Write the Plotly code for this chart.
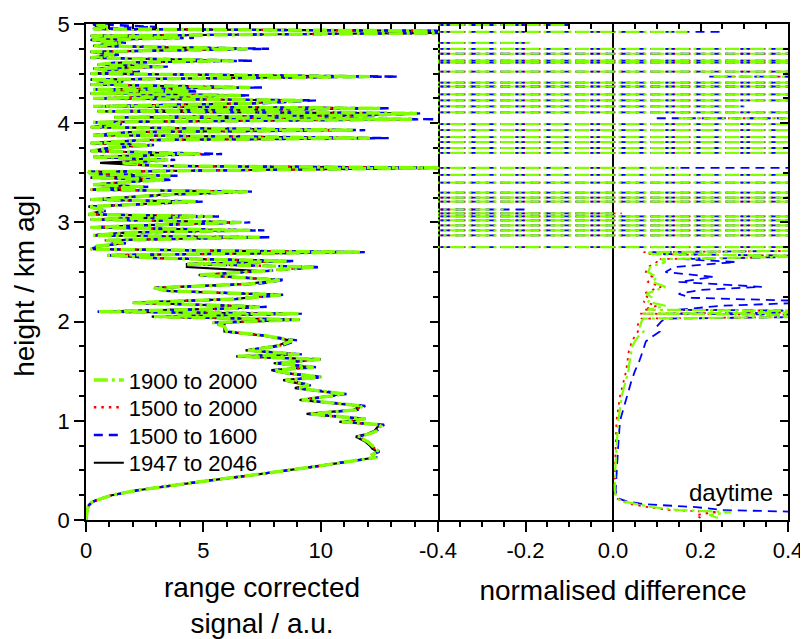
import plotly.graph_objects as go

# ---------------------------------------------------------------------------
# range corrected signal (left panel) -- heights in km agl
# ---------------------------------------------------------------------------
h_sig = [
    0.00, 0.05, 0.10, 0.15, 0.18, 0.20, 0.22, 0.25, 0.30, 0.35,
    0.40, 0.45, 0.50, 0.55, 0.60, 0.63, 0.66, 0.69, 0.72, 0.75,
    0.79, 0.84, 0.87, 0.90, 0.96, 0.99, 1.02, 1.07, 1.11, 1.15,
    1.21, 1.27, 1.33, 1.36, 1.41, 1.44, 1.48, 1.51, 1.54, 1.58,
    1.62, 1.65, 1.67, 1.71, 1.76, 1.81, 1.86, 1.90, 1.95, 1.99,
    2.02, 2.05, 2.08, 2.10, 2.13, 2.15, 2.19, 2.23, 2.27, 2.31,
    2.34, 2.38, 2.42, 2.47, 2.51, 2.55, 2.58, 2.61, 2.64, 2.67,
    2.70, 2.73, 2.76, 2.79, 2.82, 2.85, 2.87, 2.90, 2.92, 2.95,
    2.97, 3.00, 3.03, 3.06, 3.08, 3.12, 3.16, 3.19, 3.21, 3.23,
    3.26, 3.28, 3.31, 3.33, 3.36, 3.38, 3.41, 3.43, 3.45, 3.47,
    3.49, 3.51, 3.55, 3.57, 3.60, 3.63, 3.66, 3.69, 3.72, 3.75,
    3.78, 3.80, 3.83, 3.85, 3.88, 3.91, 3.93, 3.96, 3.99, 4.01,
    4.04, 4.06, 4.08, 4.10, 4.12, 4.15, 4.17, 4.20, 4.23, 4.25,
    4.28, 4.30, 4.32, 4.34, 4.36, 4.39, 4.42, 4.44, 4.47, 4.50,
    4.52, 4.55, 4.57, 4.59, 4.61, 4.63, 4.66, 4.69, 4.72, 4.75,
    4.78, 4.81, 4.84, 4.86, 4.88, 4.91, 4.93, 4.95, 4.97, 5.00,
]

sig_1900_2000 = [
    0.00, 0.02, 0.05, 0.12, 0.25, 0.45, 0.75, 1.10, 2.20, 3.70,
    5.30, 7.00, 8.60, 10.10, 11.50, 12.30, 12.20, 12.50, 12.30, 12.20,
    12.00, 11.60, 12.10, 12.40, 12.60, 10.90, 11.90, 9.50, 11.50, 11.80,
    9.20, 11.00, 9.00, 9.50, 8.50, 10.00, 8.60, 8.00, 9.70, 8.10,
    10.00, 6.40, 9.10, 6.90, 8.30, 8.80, 7.60, 6.00, 5.90, 5.40,
    9.10, 2.90, 9.10, 0.50, 6.00, 7.40, 2.00, 6.50, 8.30, 3.50,
    2.90, 7.00, 8.30, 4.80, 7.50, 9.70, 4.30, 8.60, 3.00, 0.90,
    11.70, 0.20, 0.40, 1.60, 0.80, 7.40, 0.30, 2.00, 7.00, 0.20,
    2.50, 6.60, 0.20, 5.40, 0.10, 0.80, 0.10, 3.00, 4.70, 0.20,
    2.00, 3.50, 6.90, 0.20, 2.50, 0.30, 1.90, 3.40, 0.20, 3.60,
    0.20, 0.10, 15.30, 3.00, 1.50, 3.50, 0.30, 4.90, 0.20, 1.00,
    2.80, 0.20, 2.50, 12.10, 0.30, 2.00, 11.40, 0.20, 1.50, 0.30,
    13.90, 1.20, 11.80, 14.10, 0.50, 12.60, 0.30, 7.00, 9.30, 0.30,
    6.60, 0.20, 4.40, 0.30, 7.00, 0.20, 1.50, 0.20, 12.10, 0.20,
    2.00, 0.30, 3.30, 0.50, 1.20, 6.30, 0.20, 1.20, 0.20, 6.90,
    0.30, 1.50, 0.20, 4.00, 0.20, 15.20, 15.30, 0.30, 1.00, 0.30,
]

sig_1500_2000 = [
    0.00, 0.02, 0.05, 0.12, 0.25, 0.45, 0.75, 1.10, 2.20, 3.70,
    5.30, 7.00, 8.60, 10.10, 11.50, 12.30, 12.20, 12.50, 12.30, 12.20,
    12.00, 11.60, 12.10, 12.40, 12.60, 10.90, 11.90, 9.50, 11.50, 11.80,
    9.20, 11.00, 9.00, 9.50, 8.50, 10.00, 8.60, 8.00, 9.70, 8.10,
    10.00, 6.40, 9.10, 6.90, 8.30, 8.80, 7.60, 6.00, 5.90, 5.40,
    9.10, 2.90, 9.10, 0.50, 6.00, 7.40, 2.00, 6.50, 8.30, 3.50,
    2.90, 7.00, 8.30, 4.80, 7.50, 9.70, 4.30, 8.60, 3.00, 0.90,
    11.70, 0.20, 0.40, 1.60, 0.80, 7.30, 0.30, 2.00, 7.10, 0.20,
    2.50, 6.60, 0.20, 5.40, 0.10, 0.80, 0.10, 3.00, 4.70, 0.20,
    2.00, 3.50, 6.90, 0.20, 2.50, 0.30, 1.90, 3.40, 0.20, 3.60,
    0.20, 0.10, 15.30, 3.00, 1.50, 3.50, 0.30, 5.00, 0.20, 1.00,
    2.80, 0.20, 2.50, 12.20, 0.30, 2.00, 11.40, 0.20, 1.50, 0.30,
    13.90, 1.20, 11.90, 14.10, 0.50, 12.60, 0.30, 7.00, 9.30, 0.30,
    6.60, 0.20, 4.40, 0.30, 7.00, 0.20, 1.50, 0.20, 12.20, 0.20,
    2.00, 0.30, 3.30, 0.50, 1.20, 6.30, 0.20, 1.20, 0.20, 6.90,
    0.30, 1.50, 0.20, 4.00, 0.20, 15.20, 15.30, 0.30, 1.00, 0.30,
]

sig_1500_1600 = [
    0.00, 0.02, 0.05, 0.13, 0.26, 0.46, 0.76, 1.10, 2.20, 3.70,
    5.30, 7.00, 8.60, 10.10, 11.50, 12.40, 12.20, 12.50, 12.30, 12.20,
    12.00, 11.60, 12.10, 12.40, 12.70, 10.90, 11.90, 9.50, 11.60, 11.90,
    9.20, 11.10, 9.00, 9.60, 8.50, 10.10, 8.60, 8.00, 9.80, 8.10,
    10.10, 6.40, 9.20, 6.90, 8.40, 9.00, 7.60, 6.00, 5.90, 5.40,
    9.20, 2.90, 9.20, 0.50, 6.10, 7.70, 2.00, 6.70, 8.40, 3.50,
    2.90, 7.30, 8.50, 4.80, 7.70, 10.00, 4.30, 8.90, 3.00, 0.90,
    11.90, 0.20, 0.50, 1.70, 0.80, 7.90, 0.30, 2.30, 7.60, 0.20,
    2.70, 7.00, 0.20, 5.70, 0.10, 0.90, 0.10, 3.20, 5.00, 0.20,
    2.20, 3.80, 7.10, 0.20, 2.70, 0.30, 2.00, 3.70, 0.20, 3.90,
    0.20, 0.10, 15.50, 3.20, 1.60, 3.80, 0.30, 5.80, 0.20, 1.10,
    2.90, 0.20, 2.70, 12.90, 0.30, 2.20, 11.90, 0.20, 1.60, 0.30,
    14.90, 1.20, 12.50, 14.30, 0.50, 13.00, 0.30, 7.50, 9.80, 0.30,
    7.00, 0.20, 4.80, 0.30, 7.50, 0.20, 1.70, 0.20, 13.30, 0.20,
    2.30, 0.30, 3.50, 0.50, 1.20, 7.10, 0.20, 1.40, 0.20, 7.80,
    0.30, 1.70, 0.20, 4.60, 0.20, 15.40, 15.50, 0.30, 3.00, 0.30,
]

sig_1947_2046 = [
    0.00, 0.02, 0.05, 0.12, 0.25, 0.45, 0.75, 1.10, 2.20, 3.70,
    5.30, 7.00, 8.60, 10.10, 11.50, 12.30, 12.20, 12.40, 12.20, 12.10,
    11.90, 11.50, 12.00, 12.30, 12.50, 10.80, 11.80, 9.40, 11.40, 11.70,
    9.10, 10.90, 8.90, 9.40, 8.40, 9.90, 8.50, 7.90, 9.60, 8.00,
    9.90, 6.40, 9.00, 6.80, 8.20, 8.70, 7.50, 5.90, 5.90, 5.90,
    9.00, 2.80, 9.00, 0.50, 5.90, 7.30, 2.00, 6.40, 8.20, 3.40,
    2.90, 6.90, 8.20, 4.80, 7.40, 4.30, 4.30, 8.50, 3.00, 0.90,
    11.50, 0.30, 0.60, 1.60, 1.00, 6.80, 0.30, 1.80, 6.50, 0.20,
    2.30, 6.30, 0.20, 5.20, 0.10, 0.70, 0.10, 2.80, 4.50, 0.20,
    1.90, 3.30, 6.70, 0.20, 2.30, 0.30, 1.80, 3.20, 0.20, 3.00,
    0.20, 0.10, 15.10, 3.00, 0.60, 3.20, 0.30, 4.60, 0.20, 0.90,
    2.60, 0.20, 2.30, 11.70, 0.30, 1.80, 11.00, 0.20, 1.50, 0.30,
    13.50, 1.20, 11.80, 13.80, 0.50, 12.30, 0.30, 6.80, 9.00, 0.30,
    6.40, 0.20, 4.20, 0.30, 6.80, 0.20, 1.40, 0.20, 11.60, 0.20,
    2.00, 0.30, 3.10, 0.50, 1.50, 6.00, 0.20, 1.00, 0.20, 6.50,
    0.30, 1.40, 0.20, 3.80, 0.20, 15.20, 15.30, 0.30, 0.50, 0.30,
]

# ---------------------------------------------------------------------------
# normalised difference (right panel), lower well-behaved part
# ---------------------------------------------------------------------------
h_diff = [
    0.02, 0.05, 0.08, 0.10, 0.13, 0.16, 0.19, 0.22, 0.30, 0.50,
    0.75, 1.00, 1.25, 1.40, 1.50, 1.60, 1.70, 1.75, 1.80, 1.85,
    1.90, 1.95, 2.00, 2.03, 2.06, 2.08, 2.10, 2.12, 2.16, 2.20,
    2.24, 2.28, 2.32, 2.35, 2.40, 2.45, 2.50, 2.55, 2.60, 2.63,
    2.66, 2.68, 2.70, 2.72,
]
diff_1900_2000 = [
    0.24, 0.22, 0.27, 0.15, 0.09, 0.05, 0.02, 0.008, 0.004, 0.005,
    0.008, 0.012, 0.020, 0.028, 0.035, 0.038, 0.042, 0.044, 0.050, 0.058,
    0.070, 0.062, 0.065, 0.070, 0.70, 0.070, 0.70, 0.080, 0.120, 0.080,
    0.090, 0.077, 0.100, 0.120, 0.090, 0.100, 0.080, 0.085, 0.120, 0.110,
    0.50, 0.090, 0.077, 0.60,
]
diff_1500_2000 = [
    0.20, 0.19, 0.24, 0.13, 0.08, 0.04, 0.02, 0.007, 0.003, 0.004,
    0.006, 0.008, 0.016, 0.024, 0.030, 0.033, 0.036, 0.040, 0.042, 0.050,
    0.057, 0.055, 0.060, 0.065, 0.70, 0.060, 0.70, 0.070, 0.100, 0.070,
    0.080, 0.070, 0.090, 0.110, 0.080, 0.090, 0.075, 0.080, 0.100, 0.100,
    0.50, 0.080, 0.070, 0.60,
]
diff_1500_1600 = [
    0.45, 0.42, 0.45, 0.25, 0.19, 0.07, 0.03, 0.010, 0.006, 0.008,
    0.012, 0.016, 0.032, 0.042, 0.050, 0.060, 0.068, 0.072, 0.075, 0.090,
    0.107, 0.100, 0.110, 0.120, 0.70, 0.130, 0.70, 0.150, 0.250, 0.50,
    0.180, 0.150, 0.200, 0.340, 0.150, 0.230, 0.120, 0.140, 0.280, 0.160,
    0.50, 0.120, 0.090, 0.60,
]

# upper part: the difference blows up where the signal ~ 0, so each
# trace crosses the panel; start / end value of each crossing
cross_h = [
    2.75, 2.87, 2.92, 2.97, 3.02, 3.06, 3.09, 3.13, 3.21, 3.25,
    3.30, 3.40, 3.48, 3.55, 3.70, 3.75, 3.81, 3.86, 3.93, 3.99,
    4.05, 4.11, 4.17, 4.23, 4.29, 4.37, 4.41, 4.47, 4.52, 4.61,
    4.63, 4.70, 4.75, 4.81, 4.92, 4.99,
]
cross_1900_2000 = [
    (-3, 3), (-3, 3), (-3, 3), (-3, 3), (-3, 3), (-3, 3), (-3, 0.0), (-3, -0.25), (-3, 3), (-3, 3),
    (-3, 3), (-3, 3), (-3, 3), (-3, 0.15), (-3, 3), (-3, 3), (-3, 3), (-3, 3), (-3, 3), (-3, 3),
    (0.15, 3), (-3, 3), (-3, 0.30), (-3, 3), (-3, 3), (-3, 3), (-3, 3), (0.23, 3), (-3, 3), (-3, 3),
    (-3, 3), (-3, 3), (-3, 3), (-3, -0.19), (-3, 0.17), (-3, -0.10),
]
cross_1500_2000 = [
    (-3, 3), (-3, 3), (-3, 3), (-3, 3), (-3, 3), (-3, 3), (-3, 0.02), (-3, -0.30), (-3, 3), (-3, 3),
    (-3, 3), (-3, 3), (-3, 3), (-3, 0.10), (-3, 3), (-3, 3), (-3, 3), (-3, 3), (-3, 3), (-3, 3),
    (0.16, 3), (-3, 3), (-3, 0.26), (-3, 3), (-3, 3), (-3, 3), (-3, 3), (0.24, 3), (-3, 3), (-3, 3),
    (-3, 3), (-3, 3), (-3, 3), (-3, -0.20), (-3, 0.10), (-3, -0.14),
]
cross_1500_1600 = [
    (-3, 3), (-3, 3), (-3, 3), (-3, 3), (-3, 3), (-3, 3), (-3, 0.0), (-3, -0.20), (-3, 3), (-3, 3),
    (-3, 3), (-3, 3), (-3, 3), (-3, 3), (-3, 3), (-3, 3), (-3, 3), (-3, 3), (-3, 3), (-3, 3),
    (0.10, 3), (-3, 3), (-3, 0.30), (-3, 3), (-3, 3), (-3, 3), (-3, 3), (0.22, 3), (-3, 3), (-3, 3),
    (-3, 3), (-3, 3), (-3, 3), (-3, -0.20), (-3, 0.245), (-3, -0.10),
]

labels = ["1900 to 2000", "1500 to 2000", "1500 to 1600", "1947 to 2046"]
colors = ["#7fff00", "#ff0000", "#0000ff", "#000000"]
dashes = ["14px,4px,3px,4px", "2.5px,5px", "9px,6px", "solid"]


def crossings(lo_hi):
    """turn (start, end) pairs into one broken line, gaps between crossings"""
    hh, vv = [], []
    for h, (a, b) in zip(cross_h, lo_hi):
        hh += [h, h, None]
        vv += [a, b, None]
    return hh, vv


FONT = "Liberation Sans, Arial, sans-serif"
fig = go.Figure()

# left panel: green drawn last, the others show through its gaps
sigs = [sig_1900_2000, sig_1500_2000, sig_1500_1600, sig_1947_2046]
widths = [3.4, 2.4, 2.4, 2.2]
legend_ids = ['legend', 'legend2', 'legend3', 'legend4']
for i in [3, 1, 2, 0]:
    fig.add_trace(go.Scatter(
        x=sigs[i], y=h_sig, name=labels[i], mode='lines',
        line=dict(color=colors[i], width=widths[i], dash=dashes[i]),
        legend=legend_ids[i], xaxis='x', yaxis='y'
    ))

# right panel
diffs = [diff_1900_2000, diff_1500_2000, diff_1500_1600]
cross = [cross_1900_2000, cross_1500_2000, cross_1500_1600]
rwidths = [2.2, 1.8, 1.8]
for i in [1, 2, 0]:
    hh, vv = crossings(cross[i])
    fig.add_trace(go.Scatter(
        x=diffs[i] + [None] + vv, y=h_diff + [None] + hh, mode='lines',
        line=dict(color=colors[i], width=rwidths[i], dash=dashes[i]),
        showlegend=False, xaxis='x2', yaxis='y'
    ))

# empty traces so the frame axes (top / right ticks) get drawn
for xa, ya in [('x3', 'y'), ('x4', 'y'), ('x', 'y2'), ('x2', 'y3')]:
    fig.add_trace(go.Scatter(x=[], y=[], xaxis=xa, yaxis=ya,
                             showlegend=False, hoverinfo='skip'))

split = 352 / 702
axcol = 'black'
tickfont = dict(family=FONT, size=22, color='black')


def frame(**kw):
    base = dict(showline=True, linecolor=axcol, linewidth=1.5, showgrid=False,
                zeroline=False, tickwidth=1.5, tickcolor=axcol, automargin=False)
    base.update(kw)
    return base


def minor(step, side):
    return dict(tickmode='linear', tick0=0, dtick=step, ticks=side,
                ticklen=5, tickwidth=1.5, tickcolor=axcol)


def legend_at(y):
    return dict(x=0.004, y=y, xanchor='left', yanchor='middle',
                bgcolor='rgba(0,0,0,0)', font=dict(size=22, family=FONT))


# the page body adds an 8 px offset top / left, so the figure is 8 px smaller
fig.update_layout(
    width=800, height=631,
    margin=dict(l=78, r=20, t=16, b=119, autoexpand=False),
    paper_bgcolor='white', plot_bgcolor='white',
    font=dict(family=FONT, color='black'),
    showlegend=True,
    legend=legend_at(0.282),
    legend2=legend_at(0.227),
    legend3=legend_at(0.171),
    legend4=legend_at(0.115),
    xaxis=frame(
        domain=[0, split], range=[0, 15], anchor='y',
        tickmode='array', tickvals=[0, 5, 10], ticks='outside', ticklen=10,
        tickfont=tickfont, minor=minor(1, 'outside'),
        title=dict(text='range corrected<br>signal / a.u.', font=dict(size=28), standoff=18),
    ),
    xaxis2=frame(
        domain=[split, 1], range=[-0.4, 0.4], anchor='y',
        tickmode='array', tickvals=[-0.4, -0.2, 0, 0.2, 0.4],
        ticktext=['-0.4', '-0.2', '0.0', '0.2', '0.4'],
        ticks='outside', ticklen=10, tickfont=tickfont,
        minor=minor(0.05, 'outside'),
        zeroline=True, zerolinecolor='black', zerolinewidth=1.5,
        title=dict(text='normalised difference', font=dict(size=28), standoff=18),
    ),
    xaxis3=frame(
        overlaying='x', side='top', anchor='y', range=[0, 15],
        tickmode='array', tickvals=[0, 5, 10], ticks='inside', ticklen=8,
        showticklabels=False, minor=minor(1, 'inside'),
    ),
    xaxis4=frame(
        overlaying='x2', side='top', anchor='y', range=[-0.4, 0.4],
        tickmode='array', tickvals=[-0.4, -0.2, 0, 0.2, 0.4], ticks='inside', ticklen=8,
        showticklabels=False, minor=minor(0.05, 'inside'),
    ),
    yaxis=frame(
        domain=[0, 1], range=[0, 5], anchor='x',
        tickmode='array', tickvals=[0, 1, 2, 3, 4, 5], ticks='outside', ticklen=10,
        tickfont=tickfont, minor=minor(0.25, 'outside'),
    ),
    yaxis2=frame(
        overlaying='y', side='right', anchor='x', range=[0, 5],
        tickmode='array', tickvals=[0, 1, 2, 3, 4, 5], ticks='inside', ticklen=8,
        showticklabels=False, minor=minor(0.25, 'inside'),
    ),
    yaxis3=frame(
        overlaying='y', side='right', anchor='x2', range=[0, 5],
        tickmode='array', tickvals=[0, 1, 2, 3, 4, 5], ticks='inside', ticklen=8,
        showticklabels=False, minor=minor(0.25, 'inside'),
    ),
    annotations=[
        dict(text='height / km agl', textangle=-90, x=-0.087, y=0.472,
             xref='paper', yref='paper', xanchor='center', yanchor='middle',
             showarrow=False, font=dict(size=28, family=FONT, color='black')),
        dict(text='daytime', x=0.27, y=0.28, xref='x2', yref='y',
             showarrow=False, font=dict(size=24, family=FONT, color='black')),
    ],
)

fig.write_html("out.html")
